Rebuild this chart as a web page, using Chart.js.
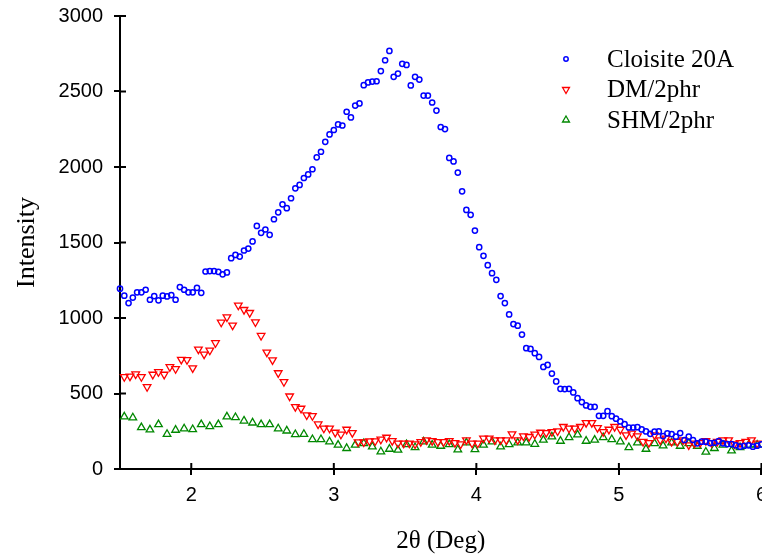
<!DOCTYPE html>
<html>
<head>
<meta charset="utf-8">
<script src="https://cdn.jsdelivr.net/npm/chart.js@4"></script>
<style>
html,body{margin:0;padding:0;background:#fff;overflow:hidden;}
#wrap{width:775px;height:555px;}
</style>
</head>
<body>
<div id="wrap"><canvas id="c" width="775" height="555"></canvas></div>
<script>
// ---- data ----
const seriesNames = ["Cloisite 20A", "DM/2phr", "SHM/2phr"];

const cloisiteX = [1.5,1.53,1.56,1.59,1.62,1.65,1.68,1.71,1.74,1.77,1.8,1.83,1.86,1.89,1.92,1.95,1.98,2.01,2.04,2.07,
2.1,2.13,2.16,2.19,2.22,2.25,2.28,2.31,2.34,2.37,2.4,2.43,2.46,2.49,2.52,2.55,2.58,2.61,2.64,2.67,
2.7,2.73,2.76,2.79,2.82,2.85,2.88,2.91,2.94,2.97,3,3.03,3.06,3.09,3.12,3.15,3.18,3.21,3.24,3.27,
3.3,3.33,3.36,3.39,3.42,3.45,3.48,3.51,3.54,3.57,3.6,3.63,3.66,3.69,3.72,3.75,3.78,3.81,3.84,3.87,
3.9,3.93,3.96,3.99,4.02,4.05,4.08,4.11,4.14,4.17,4.2,4.23,4.26,4.29,4.32,4.35,4.38,4.41,4.44,4.47,
4.5,4.53,4.56,4.59,4.62,4.65,4.68,4.71,4.74,4.77,4.8,4.83,4.86,4.89,4.92,4.95,4.98,5.01,5.04,5.07,
5.1,5.13,5.16,5.19,5.22,5.25,5.28,5.31,5.34,5.37,5.4,5.43,5.46,5.49,5.52,5.55,5.58,5.61,5.64,5.67,
5.7,5.73,5.76,5.79,5.82,5.85,5.88,5.91,5.94,5.97,6];
const cloisiteY = [1194,1148,1099,1135,1170,1170,1187,1121,1145,1117,1148,1143,1152,1121,1205,1187,1170,1170,1200,1167,
1308,1311,1311,1306,1289,1302,1396,1418,1407,1447,1460,1507,1610,1564,1586,1551,1654,1700,1753,1727,
1793,1859,1881,1927,1951,1985,2064,2101,2167,2216,2245,2282,2275,2366,2328,2407,2421,2542,2560,2566,
2568,2635,2707,2769,2597,2619,2683,2676,2540,2597,2579,2473,2473,2427,2374,2265,2251,2060,2037,1963,
1839,1716,1683,1579,1469,1412,1350,1297,1253,1145,1099,1024,960,949,890,800,795,767,742,676,
689,632,580,531,529,531,507,469,443,421,412,412,352,352,383,350,333,315,297,275,
275,277,262,249,233,247,249,218,236,231,214,238,192,214,192,170,181,181,172,174,
185,170,165,165,157,148,154,157,148,154,163];

const dmX = [1.53,1.57,1.61,1.65,1.69,1.73,1.77,1.81,1.85,1.89,1.93,1.97,2.01,2.05,2.09,2.13,2.17,2.21,2.25,2.29,
2.33,2.37,2.41,2.45,2.49,2.53,2.57,2.61,2.65,2.69,2.73,2.77,2.81,2.85,2.89,2.93,2.97,3.01,3.05,3.09,
3.13,3.17,3.21,3.25,3.29,3.33,3.37,3.41,3.45,3.49,3.53,3.57,3.61,3.65,3.69,3.73,3.77,3.81,3.85,3.89,
3.93,3.97,4.01,4.05,4.09,4.13,4.17,4.21,4.25,4.29,4.33,4.37,4.41,4.45,4.49,4.53,4.57,4.61,4.65,4.69,
4.73,4.77,4.81,4.85,4.89,4.93,4.97,5.01,5.05,5.09,5.13,5.17,5.21,5.25,5.29,5.33,5.37,5.41,5.45,5.49,
5.53,5.57,5.61,5.65,5.69,5.73,5.77,5.81,5.85,5.89,5.93,5.97];
const dmY = [610,614,628,610,544,626,643,626,676,663,725,723,669,793,760,786,835,971,1006,952,
1084,1055,1035,973,883,773,722,636,577,482,412,401,357,352,297,269,269,242,229,262,
240,178,178,185,185,196,209,187,170,170,170,165,180,192,187,180,180,187,174,165,
192,170,170,203,203,192,192,192,231,192,218,214,229,242,240,246,251,280,269,269,
280,306,306,273,246,262,280,262,225,236,218,181,174,225,192,203,181,181,192,159,
170,174,187,174,181,192,192,165,174,181,192,170];

const shmX = [1.53,1.59,1.65,1.71,1.77,1.83,1.89,1.95,2.01,2.07,2.13,2.19,2.25,2.31,2.37,2.43,2.49,2.55,2.61,2.67,
2.73,2.79,2.85,2.91,2.97,3.03,3.09,3.15,3.21,3.27,3.33,3.39,3.45,3.51,3.57,3.63,3.69,3.75,3.81,3.87,
3.93,3.99,4.05,4.11,4.17,4.23,4.29,4.35,4.41,4.47,4.53,4.59,4.65,4.71,4.77,4.83,4.89,4.95,5.01,5.07,
5.13,5.19,5.25,5.31,5.37,5.43,5.49,5.55,5.61,5.67,5.73,5.79,5.85,5.91,5.97];
const shmY = [346,340,275,260,295,231,258,267,262,295,282,295,346,342,319,306,295,295,267,253,
229,231,196,196,181,159,137,159,170,148,115,132,126,163,143,181,159,152,163,128,
174,130,159,181,148,163,174,174,165,192,214,185,209,227,185,192,209,196,181,143,
174,132,170,154,174,152,170,152,113,137,159,121,143,159,159];

const xTicks = [2, 3, 4, 5, 6];
const yTicks = [0, 500, 1000, 1500, 2000, 2500, 3000];
const xTitle = "2\u03B8 (Deg)";
const yTitle = "Intensity";

// ---- build chart ----
function pts(xs, ys){ const out=[]; for(let i=0;i<Math.min(xs.length,ys.length);i++) out.push({x:xs[i],y:ys[i]}); return out; }

const TICK = 6;
const innerTicks = {
  id:'innerTicks',
  afterDraw(chart){
    const ctx=chart.ctx, xs=chart.scales.x, ys=chart.scales.y;
    ctx.save(); ctx.strokeStyle='#000'; ctx.lineWidth=2;
    xs.ticks.forEach(t=>{const p=xs.getPixelForValue(t.value); ctx.beginPath(); ctx.moveTo(p,xs.top); ctx.lineTo(p,xs.top-TICK); ctx.stroke();});
    ys.ticks.forEach(t=>{const p=ys.getPixelForValue(t.value); ctx.beginPath(); ctx.moveTo(ys.right,p); ctx.lineTo(ys.right+TICK,p); ctx.stroke();});
    ctx.restore();
  }
};

const insideLegend = {
  id:'insideLegend',
  afterDraw(chart){
    const ctx=chart.ctx, area=chart.chartArea;
    const mx = area.left + 446, tx = area.left + 487, y0 = area.top + 43, dy = 30.5;
    ctx.save();
    chart.data.datasets.forEach((ds,i)=>{
      const y = y0 + i*dy;
      ctx.strokeStyle = ds.borderColor; ctx.fillStyle='rgba(0,0,0,0)'; ctx.lineWidth = ds.pointBorderWidth;
      Chart.helpers.drawPoint(ctx, {pointStyle: ds.pointStyle, rotation: ds.pointRotation||0, radius: ds.legendRadius, borderWidth: ds.pointBorderWidth}, mx, y);
      ctx.fillStyle='#000'; ctx.font='25px "Liberation Serif", "Times New Roman", serif';
      ctx.textBaseline='middle'; ctx.textAlign='left';
      ctx.fillText(ds.label, tx, y+1);
    });
    ctx.restore();
  }
};

new Chart(document.getElementById('c'), {
  type:'scatter',
  data:{ datasets:[
    {label:seriesNames[0], data:pts(cloisiteX,cloisiteY), pointStyle:'circle', pointRadius:2.6, legendRadius:2.2,
     pointBorderWidth:1.5, borderColor:'#0000ff', pointBorderColor:'#0000ff', pointBackgroundColor:'rgba(0,0,0,0)', showLine:false, clip:false},
    {label:seriesNames[1], data:pts(dmX,dmY), pointStyle:'triangle', pointRotation:180, pointRadius:4.4, legendRadius:4.0,
     pointBorderWidth:1.3, borderColor:'#ff0000', pointBorderColor:'#ff0000', pointBackgroundColor:'rgba(0,0,0,0)', showLine:false, clip:false},
    {label:seriesNames[2], data:pts(shmX,shmY), pointStyle:'triangle', pointRadius:4.4, legendRadius:4.0,
     pointBorderWidth:1.3, borderColor:'#008800', pointBorderColor:'#008800', pointBackgroundColor:'rgba(0,0,0,0)', showLine:false, clip:false}
  ]},
  options:{
    responsive:false, animation:false, devicePixelRatio:1,
    layout:{padding:{left:0,right:0,top:16,bottom:0}},
    plugins:{legend:{display:false}, tooltip:{enabled:false}},
    scales:{
      x:{type:'linear', min:1.5, max:6,
         afterBuildTicks:(s)=>{ s.ticks = xTicks.map(v=>({value:v})); },
         afterFit:(s)=>{ s.height = 86; },
         border:{display:true,color:'#000',width:2},
         grid:{display:true, drawOnChartArea:false, drawTicks:true, tickLength:TICK, color:'#000', lineWidth:2},
         ticks:{color:'#000', padding:8, maxRotation:0, callback:(v)=>String(v), font:{family:'"Liberation Sans", Arial, sans-serif', size:20}},
         title:{display:true, text:xTitle, color:'#000', padding:{top:0,bottom:1}, font:{family:'"Liberation Serif", "Times New Roman", serif', size:25, lineHeight:1}}
      },
      y:{type:'linear', min:0, max:3000,
         afterBuildTicks:(s)=>{ s.ticks = yTicks.map(v=>({value:v})); },
         afterFit:(s)=>{ s.width = 120; s.paddingTop = 0; s.paddingBottom = 0; },
         border:{display:true,color:'#000',width:2},
         grid:{display:true, drawOnChartArea:false, drawTicks:true, tickLength:TICK, color:'#000', lineWidth:2},
         ticks:{color:'#000', padding:11, callback:(v)=>String(v), font:{family:'"Liberation Sans", Arial, sans-serif', size:20}},
         title:{display:true, text:yTitle, color:'#000', padding:{top:14,bottom:0}, font:{family:'"Liberation Serif", "Times New Roman", serif', size:26, lineHeight:1}}
      }
    }
  },
  plugins:[innerTicks, insideLegend]
});
</script>
</body>
</html>
